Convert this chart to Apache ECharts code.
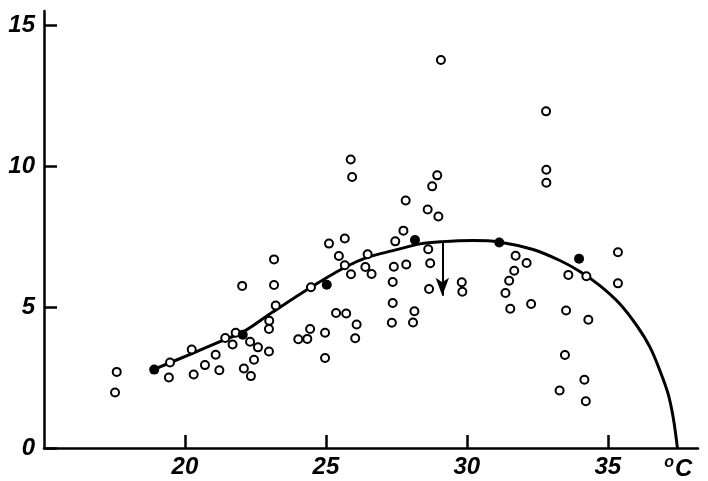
<!DOCTYPE html>
<html>
<head>
<meta charset="utf-8">
<script src="https://cdn.jsdelivr.net/npm/echarts@6/dist/echarts.min.js"></script>
<style>
html,body{margin:0;padding:0;background:#fff;}
#chart{width:708px;height:481px;}
</style>
</head>
<body>
<div id="chart"></div>
<script>
// Open circles (individual observations)
const openX = [17.58,17.52,19.47,19.43,20.24,20.31,20.71,21.09,21.22,21.43,21.69,21.80,22.03,22.31,22.59,22.45,22.09,22.34,23.16,23.16,23.22,22.99,22.98,22.98,24.47,24.02,24.34,24.44,24.97,24.97,25.11,25.67,25.46,25.67,25.89,25.36,25.72,26.09,26.04,25.88,25.93,26.48,26.40,26.62,27.41,27.37,27.37,27.34,27.46,27.75,27.83,27.85,28.14,28.09,28.61,28.99,28.77,28.95,29.08,28.63,28.70,28.66,29.82,29.84,31.73,32.12,31.68,31.50,31.37,31.54,32.28,32.81,32.82,32.82,33.60,34.24,33.52,34.31,33.48,34.17,33.29,34.22,35.36,35.36];
const openY = [2.70,1.97,3.03,2.50,3.49,2.61,2.94,3.31,2.76,3.90,3.67,4.09,5.75,3.77,3.57,3.13,2.82,2.55,6.69,5.78,5.05,4.51,4.22,3.42,5.70,3.86,3.87,4.22,4.09,3.19,7.25,7.43,6.81,6.48,6.16,4.79,4.77,4.38,3.89,10.23,9.61,6.87,6.42,6.17,6.43,5.89,5.14,4.44,7.33,7.71,8.78,6.51,4.85,4.45,8.46,8.21,9.28,9.67,13.76,7.05,6.55,5.64,5.88,5.54,6.82,6.56,6.29,5.93,5.50,4.94,5.11,11.94,9.87,9.41,6.14,6.09,4.88,4.55,3.30,2.42,2.04,1.66,6.94,5.84];
// Filled dots (means)
const meanX = [18.91,22.05,25.03,28.16,31.15,33.98];
const meanY = [2.78,4.02,5.79,7.38,7.29,6.71];
// Fitted curve
const curveX = [18.90,20.25,21.35,22.06,23.02,24.47,25.68,26.49,27.38,28.34,29.12,30.22,31.14,32.35,33.30,34.01,34.72,35.43,36.03,36.50,36.85,37.14,37.32,37.47];
const curveY = [2.79,3.35,3.82,4.12,4.76,5.70,6.41,6.77,7.00,7.24,7.32,7.36,7.31,7.04,6.65,6.26,5.76,5.11,4.34,3.57,2.74,1.92,1.08,0.0];
// Arrow
const arrowX = 29.13;
const arrowFromY = 7.33;
const arrowToY = 5.40;
// Axis ticks / labels
const xTicks = [20,25,30,35];
const yTicks = [0,5,10,15];
const unitAt = 37.5;

const zip = (a,b) => a.map((v,i) => [v,b[i]]);
const font = "'Liberation Sans Narrow','Liberation Sans',Arial,sans-serif";

const chart = echarts.init(document.getElementById('chart'), null, {renderer:'canvas'});
chart.setOption({
  animation:false,
  backgroundColor:'#fff',
  grid:{left:44,right:10,top:11,bottom:33,outerBoundsMode:'none',containLabel:false},
  xAxis:{
    type:'value',min:15,max:38.2,
    splitLine:{show:false},
    axisLine:{show:true,onZero:false,lineStyle:{color:'#000',width:2.5}},
    axisTick:{show:true,inside:true,length:13,customValues:xTicks,lineStyle:{color:'#000',width:2.5}},
    axisLabel:{show:true,customValues:xTicks.concat([unitAt]),margin:7,
      formatter:v => (v===unitAt ? '{d|o}{c|C}' : String(v)),
      rich:{
        d:{fontSize:16,fontStyle:'italic',fontWeight:'bold',fontFamily:font,color:'#000',padding:[0,1,13,0]},
        c:{fontSize:24,fontStyle:'italic',fontWeight:'bold',fontFamily:font,color:'#000'}
      },
      color:'#000',fontSize:24,fontStyle:'italic',fontWeight:'bold',fontFamily:font}
  },
  yAxis:{
    type:'value',min:0,max:15.5,
    splitLine:{show:false},
    axisLine:{show:true,onZero:false,lineStyle:{color:'#000',width:2.5}},
    axisTick:{show:true,inside:true,length:13,customValues:yTicks,lineStyle:{color:'#000',width:2.5}},
    axisLabel:{show:true,customValues:yTicks,margin:9,color:'#000',fontSize:24,fontStyle:'italic',fontWeight:'bold',fontFamily:font}
  },
  series:[
    {
      type:'line',data:zip(curveX,curveY),smooth:0.35,showSymbol:false,
      lineStyle:{color:'#000',width:3},z:2,
      markLine:{
        silent:true,symbol:['none','arrow'],symbolSize:[10,18],precision:4,
        label:{show:false},
        lineStyle:{color:'#000',width:2,type:'solid'},
        data:[[{coord:[arrowX,arrowFromY]},{coord:[arrowX,arrowToY]}]]
      }
    },
    {
      type:'scatter',data:zip(openX,openY),symbol:'circle',symbolSize:8,
      itemStyle:{color:'#fff',borderColor:'#000',borderWidth:2,opacity:1},z:3
    },
    {
      type:'scatter',data:zip(meanX,meanY),symbol:'circle',symbolSize:10,
      itemStyle:{color:'#000',opacity:1},z:4
    }
  ]
});
</script>
</body>
</html>
